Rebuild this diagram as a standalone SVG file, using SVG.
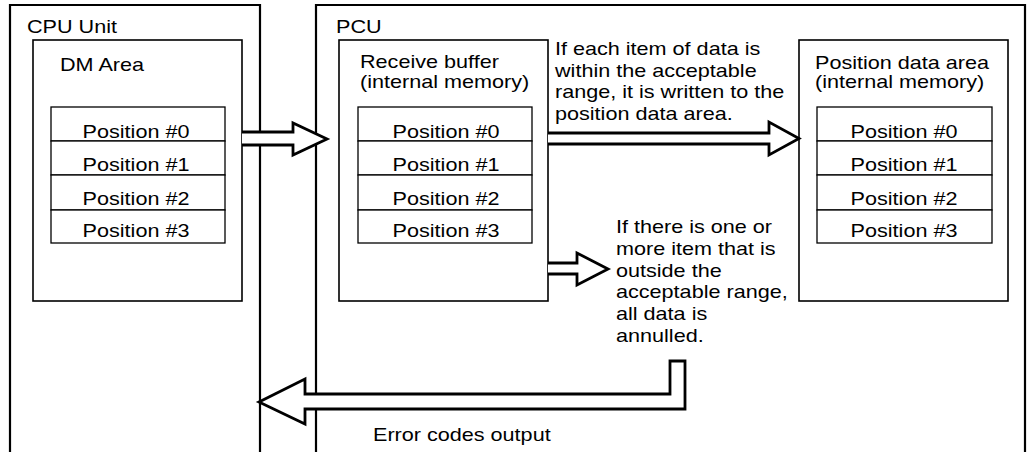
<svg xmlns="http://www.w3.org/2000/svg" width="1028" height="452" viewBox="0 0 1028 452">
<style>
.outer{fill:none;stroke:#000;stroke-width:2.2}
.inner{fill:#fff;stroke:#000;stroke-width:1.6}
.cell{fill:#fff;stroke:#000;stroke-width:1.3}
.arrow{fill:#fff;stroke:#000;stroke-width:2.8;stroke-linejoin:miter}
text{font-family:"Liberation Sans",Arial,Helvetica,sans-serif;font-size:18px;fill:#000}
.c{text-anchor:middle}
</style>
<rect width="1028" height="452" fill="#fff"/>
<g id="cpu-unit">
<path class="outer" d="M10 460 V5 H260 V460"/>
<text transform="translate(27,33) scale(1.2,1)">CPU Unit</text>
</g>
<g id="dm-area">
<rect class="inner" x="33" y="40" width="209" height="261"/>
<text transform="translate(60,71) scale(1.2,1)">DM Area</text>
<rect class="cell" x="51" y="107" width="174" height="34"/>
<rect class="cell" x="51" y="141" width="174" height="34"/>
<rect class="cell" x="51" y="175" width="174" height="35"/>
<rect class="cell" x="51" y="210" width="174" height="33"/>
<text class="c" transform="translate(136,137.5) scale(1.2,1)">Position #0</text>
<text class="c" transform="translate(136,171) scale(1.2,1)">Position #1</text>
<text class="c" transform="translate(136,204.5) scale(1.2,1)">Position #2</text>
<text class="c" transform="translate(136,237) scale(1.2,1)">Position #3</text>
</g>
<g id="pcu">
<path class="outer" d="M316 460 V5 H1025 V460"/>
<text transform="translate(336,33) scale(1.2,1)">PCU</text>
</g>
<g id="receive-buffer">
<rect class="inner" x="339" y="40" width="209" height="261"/>
<text transform="translate(360,68) scale(1.2,1)">Receive buffer</text>
<text transform="translate(360,88) scale(1.2,1)">(internal memory)</text>
<rect class="cell" x="358" y="107" width="174" height="34"/>
<rect class="cell" x="358" y="141" width="174" height="34"/>
<rect class="cell" x="358" y="175" width="174" height="35"/>
<rect class="cell" x="358" y="210" width="174" height="33"/>
<text class="c" transform="translate(446,137.5) scale(1.2,1)">Position #0</text>
<text class="c" transform="translate(446,171) scale(1.2,1)">Position #1</text>
<text class="c" transform="translate(446,204.5) scale(1.2,1)">Position #2</text>
<text class="c" transform="translate(446,237) scale(1.2,1)">Position #3</text>
</g>
<g id="position-data-area">
<rect class="inner" x="799" y="40" width="209" height="261"/>
<text transform="translate(815,69) scale(1.2,1)">Position data area</text>
<text transform="translate(815,88) scale(1.2,1)">(internal memory)</text>
<rect class="cell" x="817" y="107" width="175" height="34"/>
<rect class="cell" x="817" y="141" width="175" height="34"/>
<rect class="cell" x="817" y="175" width="175" height="35"/>
<rect class="cell" x="817" y="210" width="175" height="33"/>
<text class="c" transform="translate(904,137.5) scale(1.2,1)">Position #0</text>
<text class="c" transform="translate(904,171) scale(1.2,1)">Position #1</text>
<text class="c" transform="translate(904,204.5) scale(1.2,1)">Position #2</text>
<text class="c" transform="translate(904,237) scale(1.2,1)">Position #3</text>
</g>
<g id="connectors">
<path class="arrow" d="M242 132 H293 V123 L327 139 L293 155 V145 H242"/>
<path class="arrow" d="M548 133 H769 V122 L799 138.5 L769 155 V144 H548"/>
<path class="arrow" d="M548 263 H577 V253 L608 269 L577 285 V274 H548"/>
<path class="arrow" d="M685 361 V409 H305 V424 L259 402 L305 379 V394 H670 V361 Z"/>
</g>
<g id="note-valid">
<text transform="translate(555,55) scale(1.2,1)">If each item of data is</text>
<text transform="translate(555,76.5) scale(1.2,1)">within the acceptable</text>
<text transform="translate(555,98) scale(1.2,1)">range, it is written to the</text>
<text transform="translate(555,119.5) scale(1.2,1)">position data area.</text>
</g>
<g id="note-invalid">
<text transform="translate(616,233) scale(1.2,1)">If there is one or</text>
<text transform="translate(616,254.8) scale(1.2,1)">more item that is</text>
<text transform="translate(616,276.6) scale(1.2,1)">outside the</text>
<text transform="translate(616,298.4) scale(1.2,1)">acceptable range,</text>
<text transform="translate(616,320.2) scale(1.2,1)">all data is</text>
<text transform="translate(616,342) scale(1.2,1)">annulled.</text>
</g>
<g id="note-error">
<text transform="translate(373,441) scale(1.2,1)">Error codes output</text>
</g>
</svg>
